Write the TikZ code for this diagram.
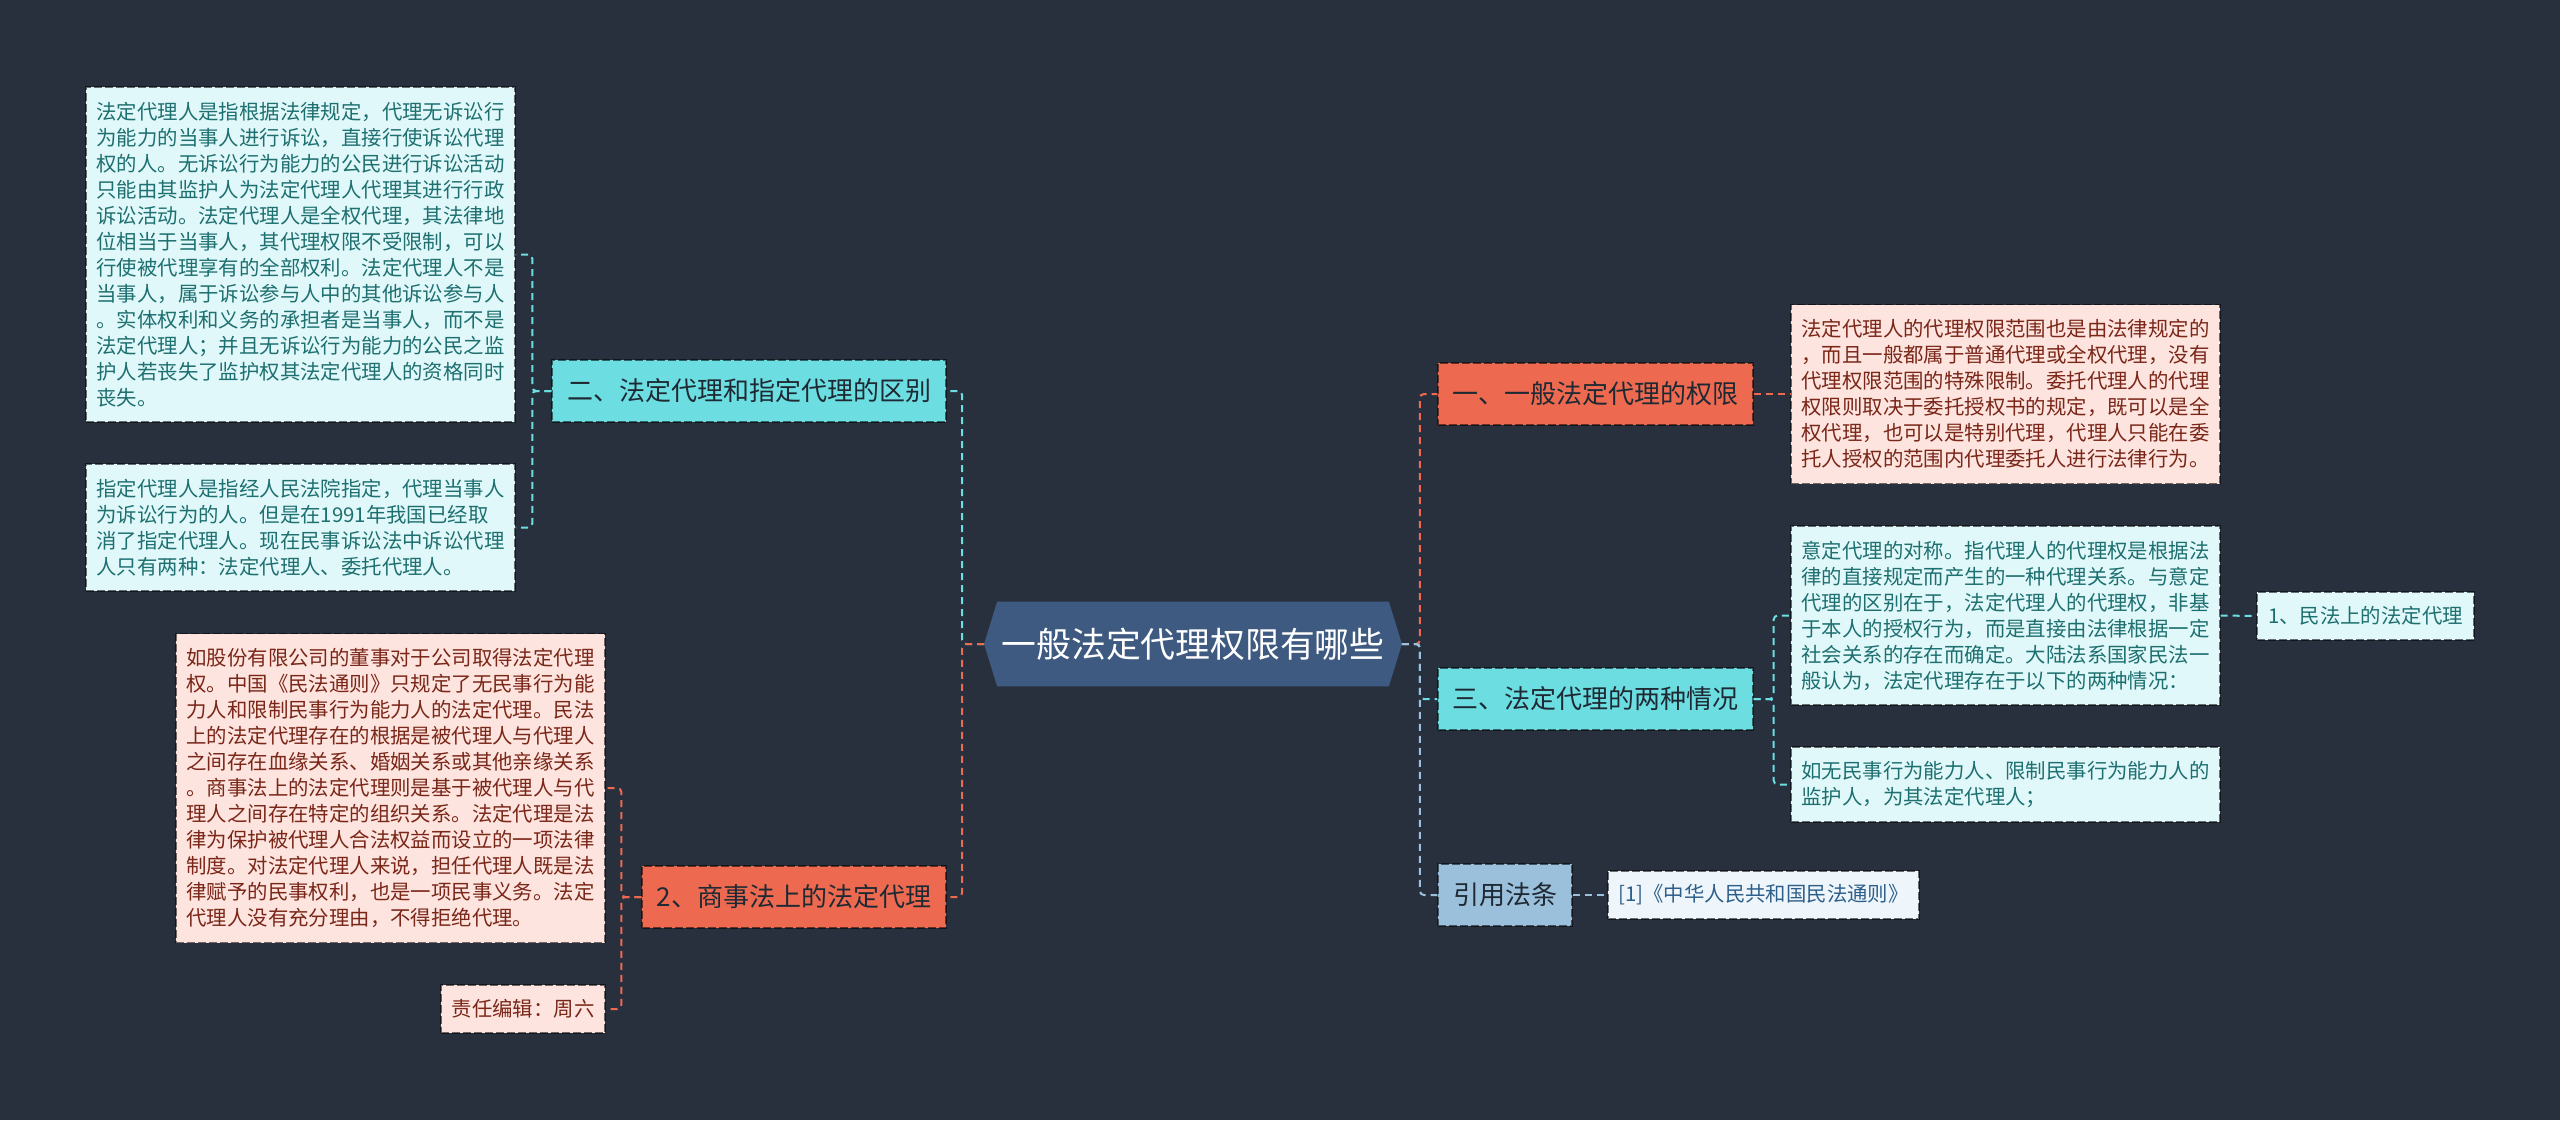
\documentclass[tikz,border=0pt]{standalone}
\usepackage{fontspec}
\setmainfont{Noto Sans CJK SC}
\usetikzlibrary{calc,backgrounds}
\definecolor{bgc}{HTML}{28303E}
\definecolor{cfill}{HTML}{3E5A80}
\definecolor{cyanb}{HTML}{6CDEE2}
\definecolor{orangeb}{HTML}{ED6A50}
\definecolor{steelb}{HTML}{9BC0DC}
\definecolor{lcyan}{HTML}{E0F8F9}
\definecolor{lpink}{HTML}{FDE4DE}
\definecolor{lblue}{HTML}{EEF6FB}
\definecolor{tealtext}{HTML}{1E6F70}
\definecolor{redtext}{HTML}{7A2618}
\definecolor{bluetext}{HTML}{2D5F8A}
\definecolor{darktext}{HTML}{1F2933}
\begin{document}
\begin{tikzpicture}[x=0.5pt,y=-0.5pt,
  box/.style={draw=black, draw opacity=0.55, dash pattern=on 4pt off 1.5pt, line width=0.7pt, inner sep=0pt, align=left},
  leaffont/.style={font=\fontsize{10.2pt}{13pt}\selectfont},
  leafc/.style={box, fill=lcyan, text=tealtext, leaffont},
  leafp/.style={box, fill=lpink, text=redtext, leaffont},
  leafb/.style={box, fill=lblue, text=bluetext, leaffont},
  branch/.style={box, minimum height=31pt, text=darktext, font=\fontsize{13pt}{16pt}\selectfont},
  conn/.style={line width=1pt, dash pattern=on 3.5pt off 2.5pt, rounded corners=2pt},
]
\useasboundingbox (0,0) rectangle (2560,1120);

% central node
\node[inner sep=0pt, minimum width=195.5pt, minimum height=42pt, text=white, font=\fontsize{17.4pt}{20pt}\selectfont] (c) at (1193,644) {一般法定代理权限有哪些};
\coordinate (cl) at ($(c.west)+(-13,0)$);
\coordinate (cr) at ($(c.east)+(13,0)$);

% branches
\node[branch, fill=cyanb, minimum width=197pt] (b2) at (749,391) {二、法定代理和指定代理的区别};
\node[branch, fill=orangeb, minimum width=152pt] (b3) at (794,897) {2、商事法上的法定代理};
\node[branch, fill=orangeb, minimum width=157.5pt] (r1) at (1595.5,394) {一、一般法定代理的权限};
\node[branch, fill=cyanb, minimum width=157.5pt] (r2) at (1595.5,699) {三、法定代理的两种情况};
\node[branch, fill=steelb, minimum width=67pt] (r3) at (1505,895) {引用法条};

% leaves
\node[leafc, minimum width=214.5pt, minimum height=167.5pt] (la) at (300.5,254.5) {法定代理人是指根据法律规定，代理无诉讼行\\为能力的当事人进行诉讼，直接行使诉讼代理\\权的人。无诉讼行为能力的公民进行诉讼活动\\只能由其监护人为法定代理人代理其进行行政\\诉讼活动。法定代理人是全权代理，其法律地\\位相当于当事人，其代理权限不受限制，可以\\行使被代理享有的全部权利。法定代理人不是\\当事人，属于诉讼参与人中的其他诉讼参与人\\。实体权利和义务的承担者是当事人，而不是\\法定代理人；并且无诉讼行为能力的公民之监\\护人若丧失了监护权其法定代理人的资格同时\\丧失。};
\node[leafc, minimum width=214.5pt, minimum height=63.5pt] (lb) at (300.5,527.5) {指定代理人是指经人民法院指定，代理当事人\\为诉讼行为的人。但是在1991年我国已经取\\消了指定代理人。现在民事诉讼法中诉讼代理\\人只有两种：法定代理人、委托代理人。};
\node[leafp, minimum width=214.5pt, minimum height=154.5pt] (lc) at (390.5,788) {如股份有限公司的董事对于公司取得法定代理\\权。中国《民法通则》只规定了无民事行为能\\力人和限制民事行为能力人的法定代理。民法\\上的法定代理存在的根据是被代理人与代理人\\之间存在血缘关系、婚姻关系或其他亲缘关系\\。商事法上的法定代理则是基于被代理人与代\\理人之间存在特定的组织关系。法定代理是法\\律为保护被代理人合法权益而设立的一项法律\\制度。对法定代理人来说，担任代理人既是法\\律赋予的民事权利，也是一项民事义务。法定\\代理人没有充分理由，不得拒绝代理。};
\node[leafp, minimum width=82pt, minimum height=24pt] (ld) at (523,1009) {责任编辑：周六};
\node[leafp, minimum width=214.5pt, minimum height=89.5pt] (le) at (2005.5,394) {法定代理人的代理权限范围也是由法律规定的\\，而且一般都属于普通代理或全权代理，没有\\代理权限范围的特殊限制。委托代理人的代理\\权限则取决于委托授权书的规定，既可以是全\\权代理，也可以是特别代理，代理人只能在委\\托人授权的范围内代理委托人进行法律行为。};
\node[leafc, minimum width=214.5pt, minimum height=89.5pt] (lf) at (2005.5,615.5) {意定代理的对称。指代理人的代理权是根据法\\律的直接规定而产生的一种代理关系。与意定\\代理的区别在于，法定代理人的代理权，非基\\于本人的授权行为，而是直接由法律根据一定\\社会关系的存在而确定。大陆法系国家民法一\\般认为，法定代理存在于以下的两种情况：};
\node[leafc, minimum width=214.5pt, minimum height=37.5pt] (lg) at (2005.5,784.5) {如无民事行为能力人、限制民事行为能力人的\\监护人，为其法定代理人；};
\node[leafc, minimum width=108.5pt, minimum height=24pt] (lh) at (2365.5,616) {1、民法上的法定代理};
\node[leafb, minimum width=155.5pt, minimum height=24pt] (li) at (1763.5,895) {[1]《中华人民共和国民法通则》};

\begin{pgfonlayer}{background}
\fill[bgc] (0,0) rectangle (2560,1120);
\fill[cfill] (cl) -- (c.north west) -- (c.north east) -- (cr) -- (c.south east) -- (c.south west) -- cycle;
\end{pgfonlayer}

% connectors, left
\draw[conn, cyanb] (cl) -- ++(-22,0) |- (b2.east);
\draw[conn, orangeb] (cl) -- ++(-22,0) |- (b3.east);
\draw[conn, cyanb] (b2.west) -- ++(-19,0) |- (la.east);
\draw[conn, cyanb] (b2.west) -- ++(-19,0) |- (lb.east);
\draw[conn, orangeb] (b3.west) -- ++(-20,0) |- (lc.east);
\draw[conn, orangeb] (b3.west) -- ++(-20,0) |- (ld.east);
% connectors, right
\draw[conn, orangeb] (cr) -- ++(18,0) |- (r1.west);
\draw[conn, cyanb] (cr) -- ++(18,0) |- (r2.west);
\draw[conn, steelb] (cr) -- ++(18,0) |- (r3.west);
\draw[conn, orangeb] (r1.east) -- (le.west);
\draw[conn, cyanb] (r2.east) -- ++(20,0) |- (lf.west);
\draw[conn, cyanb] (r2.east) -- ++(20,0) |- (lg.west);
\draw[conn, steelb] (r3.east) -- (li.west);
\draw[conn, cyanb] (lf.east) -- (lh.west);
\end{tikzpicture}
\end{document}
